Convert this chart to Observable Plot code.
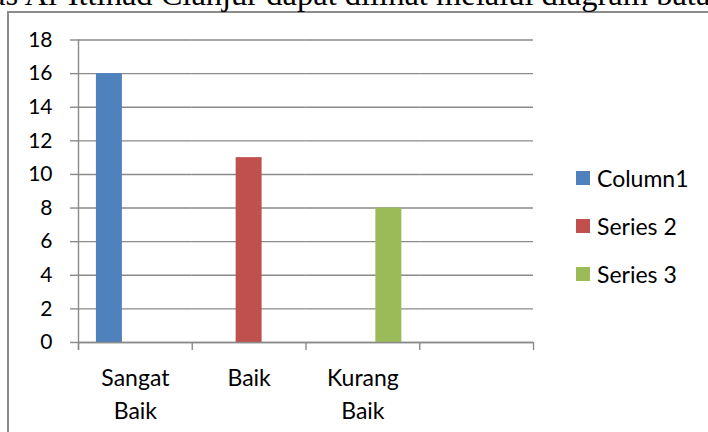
<!DOCTYPE html>
<html>
<head>
<meta charset="utf-8">
<script src="https://cdn.jsdelivr.net/npm/d3@7"></script>
<script src="https://cdn.jsdelivr.net/npm/@observablehq/plot@0.6"></script>
<style>
  html, body { margin: 0; padding: 0; background: #fff; overflow: hidden; }
  #wrap { position: relative; width: 708px; height: 432px; overflow: hidden; }
  #border { position: absolute; left: 7px; top: 11px; width: 900px; height: 600px; border: 2px solid #8c8c8c; box-sizing: border-box; }
  #head { position: absolute; left: 0; top: 0; }
  #chart { position: absolute; left: 0; top: 0; }
  #legend { position: absolute; left: 576px; top: 0; font-family: Lato, sans-serif; font-size: 23px; color: #000; }
  .item { position: absolute; left: 0; display: flex; align-items: center; white-space: nowrap; transform: translateY(-50%); }
  .sw { width: 14px; height: 14px; margin-right: 7px; }
</style>
</head>
<body>
<div id="wrap">
  <div id="border"></div>
  <svg id="head" width="708" height="20"><text x="-9" y="5" font-family="Liberation Serif, serif" font-size="32.5" fill="#000">as Al-Ittihad Cianjur dapat dilihat melalui diagram batang</text></svg>
  <div id="chart"></div>
  <div id="legend"></div>
</div>
<script>
// Data
const categories = ["Sangat Baik", "Baik", "Kurang Baik", ""];
const seriesNames = ["Column1", "Series 2", "Series 3"];
const column1 = [16, null, null, null];
const series2 = [null, 11, null, null];
const series3 = [null, null, 8, null];
const yTicks = [0, 2, 4, 6, 8, 10, 12, 14, 16, 18];
const colors = ["#4F81BD", "#C0504D", "#9BBB59"];

const seriesValues = [column1, series2, series3];
const rows = [];
seriesValues.forEach((vals, si) => vals.forEach((v, ci) => {
  if (v != null) rows.push({cat: categories[ci], series: seriesNames[si], value: v});
}));

const W = 708, H = 432, ML = 78, MR = 175, MT = 39.5, MB = 90;
const padOuter = 0.69;
const facetW = (W - ML - MR) / categories.length;
const step = facetW / (seriesNames.length + 2 * padOuter);
const edgeOff = padOuter * step + step / 2;
const gray = "#8a8a8a";

const leftEdges = categories.map(c => ({cat: c, series: seriesNames[0]}));
const rightEdge = [{cat: categories[categories.length - 1], series: seriesNames[seriesNames.length - 1]}];
const axisLine = [{cat: categories[0], series: seriesNames[0]}];

const chart = Plot.plot({
  width: W, height: H,
  marginLeft: ML, marginRight: MR, marginTop: MT, marginBottom: MB,
  style: {fontFamily: "Lato, sans-serif", fontSize: "21px", color: "#000", background: "transparent"},
  fx: {domain: categories, padding: 0, round: false, label: null, axis: null},
  x: {domain: seriesNames, paddingInner: 0, paddingOuter: padOuter, round: false, axis: null},
  y: {domain: [0, yTicks[yTicks.length - 1]], axis: null},
  color: {domain: seriesNames, range: colors},
  marks: [
    Plot.gridY(yTicks, {stroke: gray, strokeOpacity: 1, strokeWidth: 1.4}),
    Plot.axisY(yTicks, {tickSize: 8, tickPadding: 18, stroke: gray, strokeWidth: 1.4, fill: "#000", fontSize: 21, label: null}),
    Plot.axisFx({tickSize: 0, tickPadding: 20, fontSize: 23, lineHeight: 1.43, fill: "#000", label: null, anchor: "bottom",
      tickFormat: d => d.replace(" ", "\n")}),
    Plot.barY(rows, {fx: "cat", x: "series", y: "value", fill: "series"}),
    Plot.ruleY([0], {stroke: gray, strokeWidth: 1.4}),
    Plot.ruleX(axisLine, {fx: "cat", x: "series", y1: yTicks[yTicks.length - 1], y2: 0, insetBottom: -8, dx: -edgeOff, stroke: gray, strokeWidth: 1.4}),
    Plot.ruleX(leftEdges, {fx: "cat", x: "series", y1: 0, y2: 0, insetBottom: -8, dx: -edgeOff, stroke: gray, strokeWidth: 1.4}),
    Plot.ruleX(rightEdge, {fx: "cat", x: "series", y1: 0, y2: 0, insetBottom: -8, dx: edgeOff, stroke: gray, strokeWidth: 1.4})
  ]
});
document.getElementById("chart").append(chart);

// Legend
const legend = document.getElementById("legend");
const legendY = [178, 226, 274];
seriesNames.forEach((s, i) => {
  const it = document.createElement("div");
  it.className = "item";
  it.style.top = legendY[i] + "px";
  const sw = document.createElement("div");
  sw.className = "sw";
  sw.style.background = colors[i];
  const tx = document.createElement("span");
  tx.textContent = s;
  it.append(sw, tx);
  legend.append(it);
});
</script>
</body>
</html>
